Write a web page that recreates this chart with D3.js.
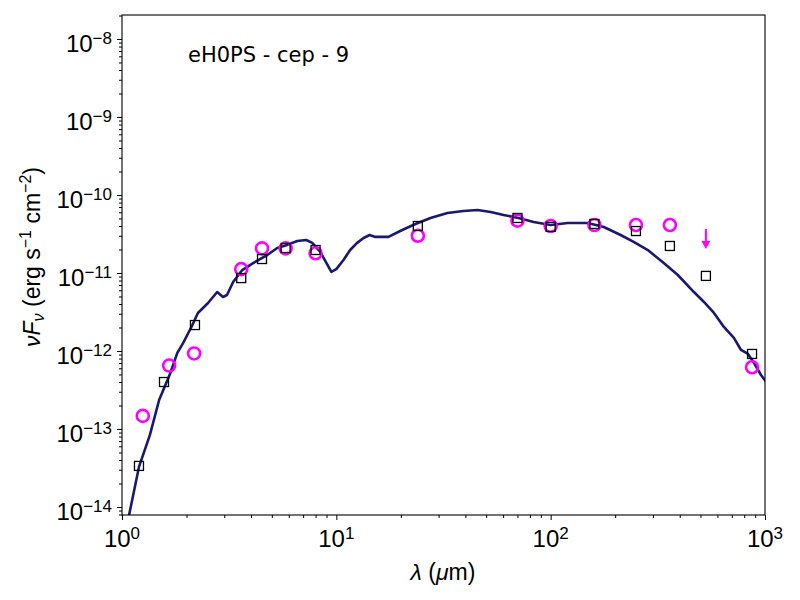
<!DOCTYPE html>
<html><head><meta charset="utf-8">
<script src="https://cdn.jsdelivr.net/npm/d3@7"></script>
<style>body{margin:0;background:#fff}</style>
</head><body><svg id="c" width="800" height="600"></svg>
<script>
// ---- data ----
const modelWave = [1.044,1.20,1.35,1.49,1.68,1.81,1.93,2.12,2.26,2.52,2.78,2.96,3.09,3.30,3.64,4.09,4.76,5.30,5.90,6.57,7.24,7.72,8.42,9.48,10.0,10.8,11.6,12.5,13.4,14.3,15.2,17.5,20.3,23.4,27.5,33.0,39.2,45.6,52.5,60.3,70.8,83.3,100,120,149,177,212,244,284,337,392,466,519,578,643,716,773,833,889,958,1021];
const modelFlux = [5.07e-15,3.26e-14,8.4e-14,2.35e-13,5.2e-13,9.4e-13,1.27e-12,2.09e-12,3.07e-12,4.12e-12,5.7e-12,4.92e-12,5.22e-12,7.67e-12,1.09e-11,1.34e-11,1.70e-11,2.09e-11,2.29e-11,2.57e-11,2.65e-11,2.43e-11,1.86e-11,1.03e-11,1.12e-11,1.47e-11,1.97e-11,2.43e-11,2.81e-11,3.07e-11,2.90e-11,2.90e-11,3.56e-11,4.25e-11,5.07e-11,5.88e-11,6.24e-11,6.43e-11,6.05e-11,5.54e-11,5.07e-11,4.51e-11,4.12e-11,4.37e-11,4.37e-11,3.89e-11,3.07e-11,2.50e-11,1.97e-11,1.34e-11,9.42e-12,5.7e-12,4.25e-12,3.07e-12,2.03e-12,1.47e-12,1.03e-12,9.16e-13,7.0e-13,4.92e-13,3.89e-13];
const sqWave = [1.2,1.57,2.19,3.6,4.5,5.8,8.0,24,70,100,160,250,360,530,870];
const sqFlux = [3.36e-14,4.0e-13,2.15e-12,8.6e-12,1.51e-11,2.09e-11,1.97e-11,4.0e-11,5.07e-11,3.9e-11,4.25e-11,3.45e-11,2.22e-11,9.17e-12,9.16e-13];
const obsWave = [1.25,1.66,2.17,3.6,4.5,5.8,8.0,24,70,100,160,250,360,870];
const obsFlux = [1.47e-13,6.5e-13,9.3e-13,1.12e-11,2.07e-11,2.07e-11,1.79e-11,3.0e-11,4.69e-11,4.0e-11,4.12e-11,4.12e-11,4.12e-11,6.18e-13];
const limWave = [530];
const limFlux = [3.66e-11];
const xTicks = [1,10,100,1000];
const xTickExp = ["0","1","2","3"];
const yTicks = [1e-14,1e-13,1e-12,1e-11,1e-10,1e-9,1e-8];
const yTickExp = ["−14","−13","−12","−11","−10","−9","−8"];
const label = "eH0PS - cep - 9";

// ---- layout ----
const L=122,R=765,T=15,B=515;
const svg=d3.select("#c");
const x=d3.scaleLog().domain([1,1000]).range([L,R]);
const y=d3.scaleLog().domain([7.89e-15,2.03e-8]).range([B,T]);
const tickFont="'Liberation Sans Narrow','Liberation Sans',Arial,sans-serif";
const labFont="'Liberation Sans',Arial,sans-serif";

svg.append("clipPath").attr("id","clip").append("rect").attr("x",L).attr("y",T).attr("width",R-L).attr("height",B-T);

// minor ticks
const xMinor=[];for(let d=1;d<1000;d*=10)for(let k=2;k<10;k++)xMinor.push(d*k);
const yMinor=[];for(let e=-15;e<-7;e++)for(let k=2;k<10;k++){const v=k*Math.pow(10,e);if(v>7.89e-15&&v<2.03e-8)yMinor.push(v);}

const gx=svg.append("g").attr("transform",`translate(0,${B})`);
gx.call(d3.axisBottom(x).tickValues(xMinor).tickSize(3).tickFormat(""));
gx.call(g=>g.select(".domain").remove());
const gx2=svg.append("g").attr("transform",`translate(0,${B})`);
gx2.call(d3.axisBottom(x).tickValues(xTicks).tickSize(5).tickFormat(""));
gx2.call(g=>g.select(".domain").remove());
const gy=svg.append("g").attr("transform",`translate(${L},0)`);
gy.call(d3.axisLeft(y).tickValues(yMinor).tickSize(3).tickFormat(""));
gy.call(g=>g.select(".domain").remove());
const gy2=svg.append("g").attr("transform",`translate(${L},0)`);
gy2.call(d3.axisLeft(y).tickValues(yTicks).tickSize(5).tickFormat(""));
gy2.call(g=>g.select(".domain").remove());
svg.selectAll(".tick line").attr("stroke","#000").attr("stroke-width",1);

// x tick labels
xTicks.forEach((t,i)=>{
  const tx=svg.append("text").attr("x",x(t)).attr("y",547).attr("text-anchor","middle")
    .attr("font-family",tickFont).attr("font-size",24).attr("fill","#000");
  tx.append("tspan").text("10");
  tx.append("tspan").attr("dy",-8).attr("font-size",17).text(xTickExp[i]);
});
// y tick labels
yTicks.forEach((t,i)=>{
  const tx=svg.append("text").attr("x",112).attr("y",y(t)+13).attr("text-anchor","end")
    .attr("font-family",tickFont).attr("font-size",24).attr("fill","#000");
  tx.append("tspan").text("10");
  tx.append("tspan").attr("dy",-8).attr("font-size",17).text(yTickExp[i]);
});

// model line
const plot=svg.append("g").attr("clip-path","url(#clip)");
plot.append("path").datum(modelWave.map((w,i)=>[w,modelFlux[i]]))
  .attr("d",d3.line().x(d=>x(d[0])).y(d=>y(d[1])))
  .attr("fill","none").attr("stroke","#191970").attr("stroke-width",2.6).attr("stroke-linejoin","round");

// circles
plot.selectAll("circle.obs").data(obsWave.map((w,i)=>[w,obsFlux[i]])).enter().append("circle")
  .attr("cx",d=>x(d[0])).attr("cy",d=>y(d[1])).attr("r",6)
  .attr("fill","none").attr("stroke","#ff00ff").attr("stroke-width",2.6);
// squares
plot.selectAll("rect.sq").data(sqWave.map((w,i)=>[w,sqFlux[i]])).enter().append("rect")
  .attr("x",d=>x(d[0])-4.5).attr("y",d=>y(d[1])-4.5).attr("width",9).attr("height",9)
  .attr("fill","none").attr("stroke","#000").attr("stroke-width",1.3);
// upper limit arrows
limWave.forEach((w,i)=>{
  const px=x(w),py=y(limFlux[i]);
  plot.append("line").attr("x1",px).attr("x2",px).attr("y1",py).attr("y2",py+14)
    .attr("stroke","#ff00ff").attr("stroke-width",2);
  plot.append("path").attr("d",`M${px-4.5},${py+12}L${px+4.5},${py+12}L${px},${py+20}Z`).attr("fill","#ff00ff");
});

// frame
svg.append("rect").attr("x",L).attr("y",T).attr("width",R-L).attr("height",B-T)
  .attr("fill","none").attr("stroke","#000").attr("stroke-width",1.1);

// source label
svg.append("text").attr("x",188).attr("y",62).attr("font-family","'DejaVu Sans'").attr("font-size",21)
  .attr("fill","#000").attr("xml:space","preserve").text(label);

// axis labels
const xl=svg.append("text").attr("x",443).attr("y",580).attr("text-anchor","middle")
  .attr("font-family",labFont).attr("font-size",23).attr("fill","#000");
xl.append("tspan").attr("font-style","italic").text("λ");
xl.append("tspan").text(" (");
xl.append("tspan").attr("font-style","italic").text("μ");
xl.append("tspan").text("m)");

const yl=svg.append("text").attr("transform","translate(40,257) rotate(-90)").attr("text-anchor","middle")
  .attr("font-family",labFont).attr("font-size",23).attr("fill","#000");
yl.append("tspan").attr("font-style","italic").text("νF");
yl.append("tspan").attr("font-style","italic").attr("font-size",16).attr("dy",4).text("ν");
yl.append("tspan").attr("dy",-4).text(" (erg s");
yl.append("tspan").attr("font-size",16).attr("dy",-9).text("−1");
yl.append("tspan").attr("dy",9).text(" cm");
yl.append("tspan").attr("font-size",16).attr("dy",-9).text("−2");
yl.append("tspan").attr("dy",9).text(")");
</script></body></html>
